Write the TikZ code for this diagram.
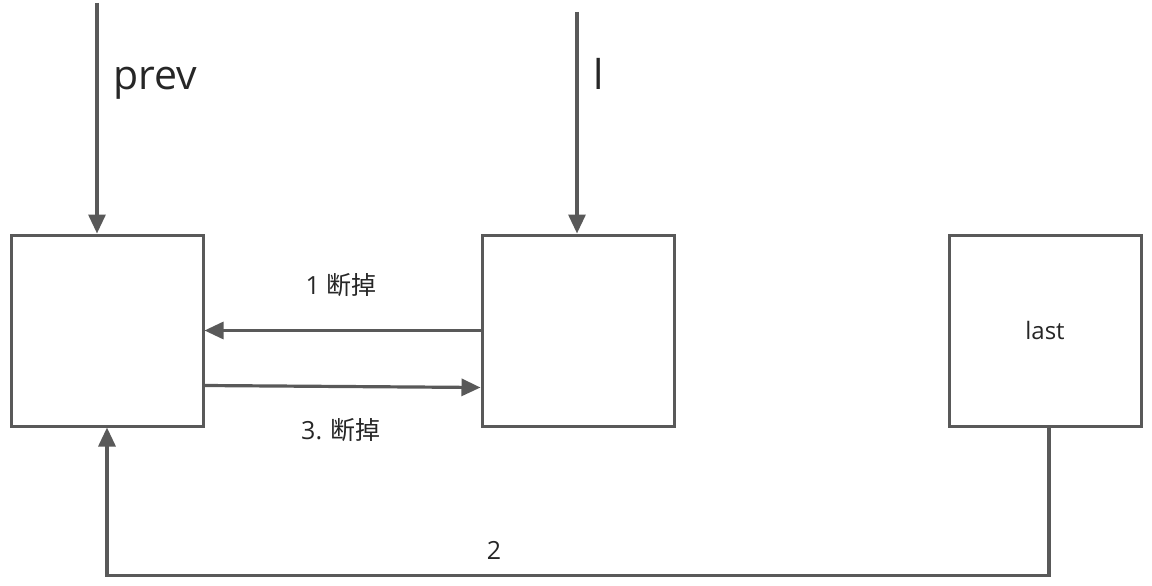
\documentclass[tikz,border=0pt]{standalone}
\usepackage{fontspec}
\setmainfont{Open Sans}
\newfontfamily\cjk{Noto Sans CJK SC}
\usetikzlibrary{arrows.meta}
\definecolor{ln}{HTML}{595959}
\definecolor{tx}{HTML}{262626}
\begin{document}
\begin{tikzpicture}[x=1pt,y=-1pt,
  box/.style={draw=ln,line width=3pt,minimum width=192pt,minimum height=191pt,inner sep=0pt,text=tx,font=\fontsize{24}{28}\selectfont},
  conn/.style={draw=ln,line width=3.2pt,-{Triangle[length=19pt,width=17pt]}},
  lbl/.style={text=tx,inner sep=0pt,font=\fontsize{25}{30}\selectfont},
  big/.style={text=tx,inner sep=0pt,font=\fontsize{41}{48}\selectfont,anchor=base west}]
\useasboundingbox (0,0) rectangle (1152,586);
\node[box] (A) at (107,330.5) {};
\node[box] (B) at (578,330.5) {};
\node[box] (C) at (1045,330.5) {last};
\coordinate (p0) at (97,3);
\coordinate (l0) at (577,12);
\draw[conn] (p0) -- (p0 |- A.north);
\draw[conn] (l0) -- (l0 |- B.north);
\node[big] (prev) at (113,89) {prev};
\node[big] (lab) at (593,89) {l};
\draw[conn] (B.west) -- (A.east);
\draw[conn] ([yshift=-55pt]A.east) -- ([yshift=-57pt]B.west);
\node[lbl] (t1) at (341,285) {1 {\cjk 断掉}};
\node[lbl] (t3) at (341,430) {3. {\cjk 断掉}};
\coordinate (c0) at ([xshift=4pt]C.south);
\draw[conn] (c0) -- ++(0,148) coordinate (c1) -| (A.south);
\node[lbl] (t2) at (494,550) {2};
\end{tikzpicture}
\end{document}
